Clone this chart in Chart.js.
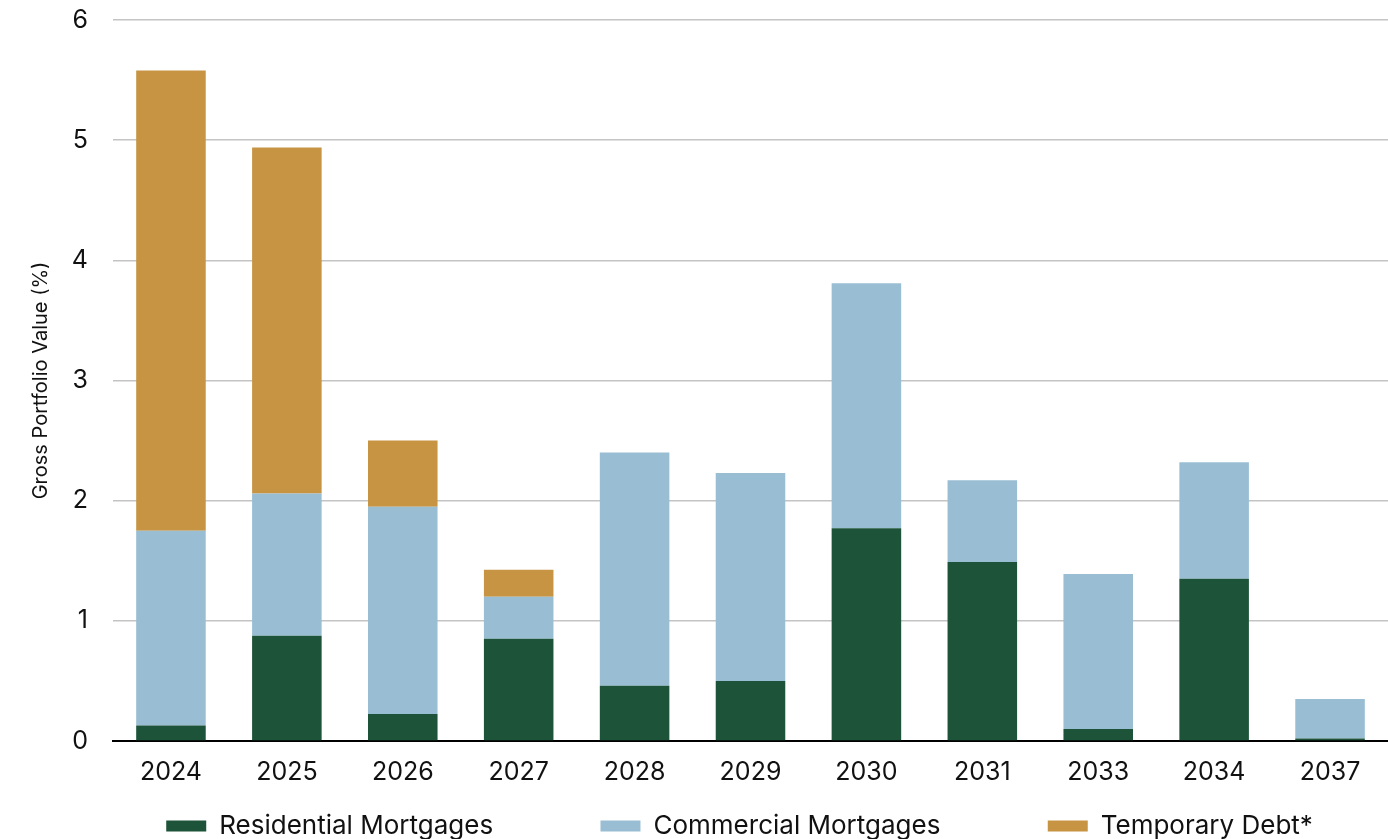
<!DOCTYPE html>
<html>
<head>
<meta charset="utf-8">
<script src="https://cdn.jsdelivr.net/npm/chart.js@4.4.1/dist/chart.umd.min.js"></script>
<style>
    html, body { margin: 0; padding: 0; background: #ffffff; }
    #wrap { width: 1388px; height: 839px; }
</style>
</head>
<body>
<div id="wrap"><canvas id="myChart"></canvas></div>
<script>
const years = ['2024', '2025', '2026', '2027', '2028', '2029', '2030', '2031', '2033', '2034', '2037'];
// values (% of gross portfolio value), stacked
const residential = [0.13, 0.875, 0.225, 0.85, 0.46, 0.5, 1.77, 1.49, 0.1, 1.35, 0.02];
const commercial = [1.62, 1.185, 1.725, 0.35, 1.94, 1.73, 2.04, 0.68, 1.29, 0.97, 0.33];
const temporary = [3.83, 2.88, 0.55, 0.225, 0, 0, 0, 0, 0, 0, 0];
const yTicks = [0, 1, 2, 3, 4, 5, 6];

const fontFam = 'Inter, "Noto Sans", sans-serif';
// spacing between legend entries (the legend has no per-item gap option)
const gap = ' '.repeat(14);
const tail = ' '.repeat(3);

const ctx = document.getElementById('myChart').getContext('2d');
const myChart = new Chart(ctx, {
    type: 'bar',
    data: {
        labels: years,
        datasets: [{
            label: 'Residential Mortgages',
            data: residential,
            backgroundColor: '#1d5339'
        }, {
            label: 'Commercial Mortgages',
            data: commercial,
            backgroundColor: '#99bed4'
        }, {
            label: 'Temporary Debt*',
            data: temporary,
            backgroundColor: '#c79444'
        }]
    },
    options: {
        responsive: true,
        maintainAspectRatio: false,
        animation: false,
        datasets: {
            bar: { categoryPercentage: 1, barPercentage: 0.6 }
        },
        layout: { padding: { top: 0, left: 0, right: 0, bottom: -10 } },
        plugins: {
            tooltip: { enabled: false },
            legend: {
                position: 'bottom',
                fullSize: false,
                labels: {
                    boxWidth: 40,
                    boxHeight: 11,
                    padding: 5,
                    color: '#111111',
                    font: { family: fontFam, size: 26 },
                    generateLabels: (chart) => {
                        const items = Chart.defaults.plugins.legend.labels.generateLabels(chart);
                        items.forEach((it, i) => {
                            it.text = it.text + (i < items.length - 1 ? gap : tail);
                        });
                        return items;
                    }
                }
            }
        },
        scales: {
            x: {
                stacked: true,
                grid: { display: false, drawTicks: false },
                border: { color: '#000000', width: 2 },
                ticks: { color: '#111111', padding: 16, font: { family: fontFam, size: 25 } },
                afterFit: (axis) => { axis.height += 5; }
            },
            y: {
                stacked: true,
                min: 0,
                max: 6,
                afterBuildTicks: (axis) => { axis.ticks = yTicks.map(v => ({ value: v })); },
                // fixed axis width, and keep the wide label gap from pushing the plot top down
                afterFit: (axis) => { axis.width = 113; axis.paddingTop = 20; axis.paddingBottom = 15; },
                grid: { color: '#c4c4c4', lineWidth: 1.5, drawTicks: false },
                border: { display: false },
                ticks: { color: '#111111', padding: 25, font: { family: fontFam, size: 25 } },
                title: {
                    display: true,
                    text: 'Gross Portfolio Value (%)',
                    color: '#111111',
                    padding: { top: 29, bottom: 20 },
                    font: { family: fontFam, size: 20 }
                }
            }
        }
    }
});
</script>
</body>
</html>
